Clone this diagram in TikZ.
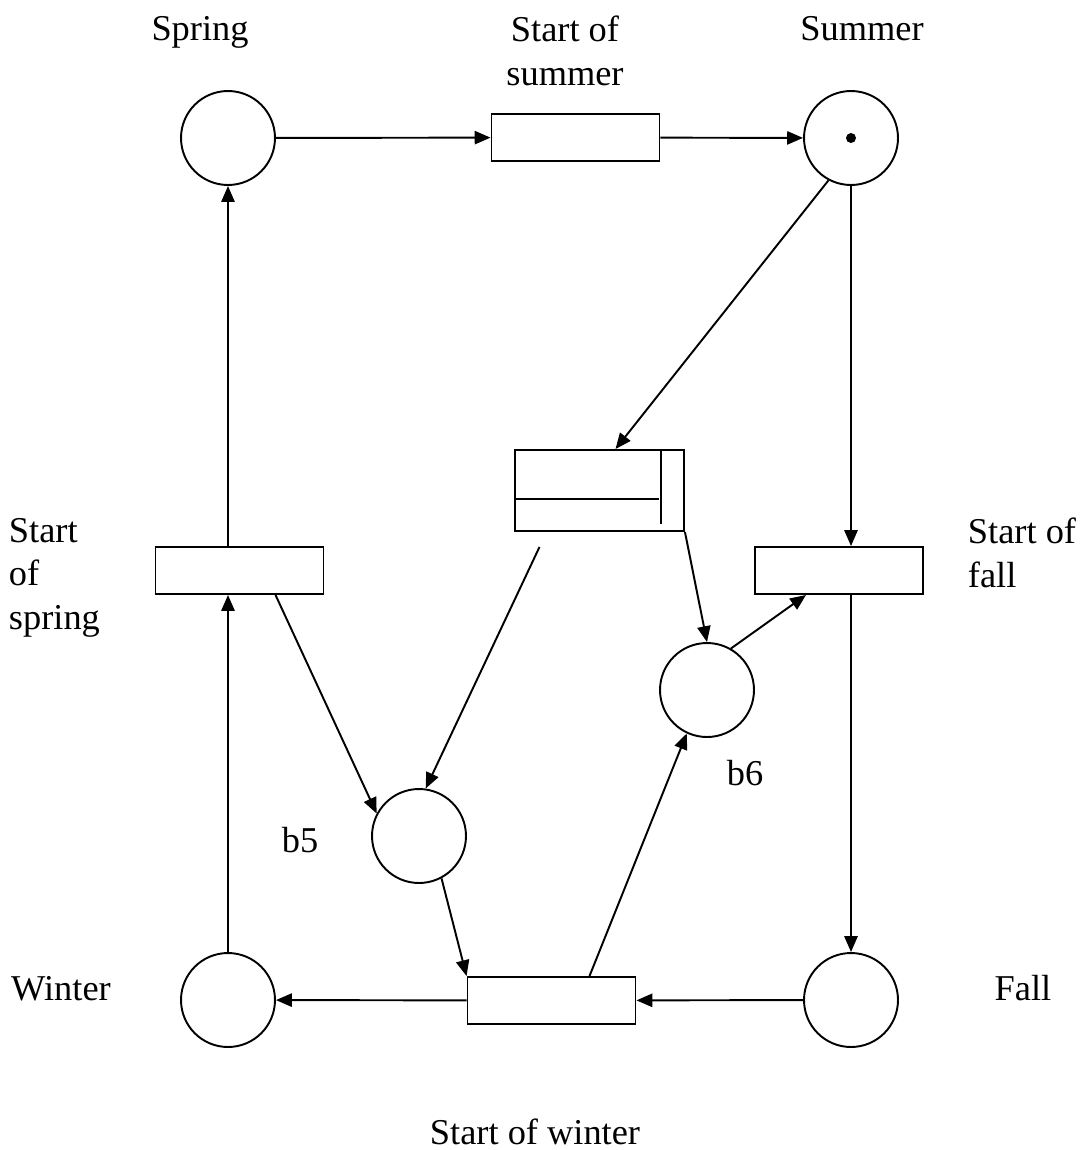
\documentclass[tikz,border=0pt]{standalone}
\usepackage{fontspec}
\setmainfont{Liberation Serif}
\usetikzlibrary{calc,arrows.meta}

\begin{document}
\begin{tikzpicture}[x=0.02cm, y=-0.02cm, line width=1.1pt,
	place/.style={draw, circle, minimum size=1.88cm, inner sep=0},
	trans/.style={draw, rectangle, minimum width=3.36cm, minimum height=0.94cm, inner sep=0},
	arc/.style={-{Triangle[length=9pt,width=7.5pt]}},
	lbl/.style={font=\fontsize{20.7}{25}\selectfont, inner sep=0}]
			%%%%% START %%%%%
			
			\useasboundingbox (0,0) rectangle (1087,1150);
			
			\node[place] (spring) at (228,138) {};
			\node[place] (summer) at (851,138) {};
			\node[place] (winter) at (228,1000) {};
			\node[place] (fall) at (851,1000) {};
			\node[place] (b5) at (419,836) {};
			\node[place] (b6) at (707,690) {};
			\fill (summer) circle (0.1cm);
			
			\node[trans] (ssummer) at (575.5,137.5) {};
			\node[trans] (sspring) at (239.5,570.5) {};
			\node[trans] (sfall) at (839,570.5) {};
			\node[trans] (swinter) at (551.5,1000.5) {};
			
			\node[draw, minimum width=3.38cm, minimum height=1.62cm, inner sep=0] (mid) at (599.5,490.5) {};
			\draw ($(mid.north east)+(-24,0)$) -- ($(mid.south east)+(-24,-8)$);
			\draw ($(mid.west)+(0,8.5)$) -- ++(145,0);
			
			\draw[arc] (spring) -- (ssummer);
			\draw[arc] (ssummer) -- (summer);
			\draw[arc] (summer.-118) -- ($(mid.north)+(16,0)$);
			\draw[arc] (summer) -- (sfall.north -| summer);
			\draw[arc] (sfall.south -| fall) -- (fall);
			\draw[arc] (fall) -- (swinter);
			\draw[arc] (swinter) -- (winter);
			\draw[arc] (winter) -- (sspring.south -| winter);
			\draw[arc] (sspring.north -| spring) -- (spring);
			\draw[arc] ($(sspring.south)+(36,0)$) -- (b5.152);
			\draw[arc] ($(mid.south)+(-60,15)$) -- (b5.82);
			\draw[arc] (mid.south east) -- (b6.90);
			\draw[arc] (b6.60) -- ($(sfall.south)+(-33,0)$);
			\draw[arc] (b5.-62) -- (swinter.north west);
			\draw[arc] ($(swinter.north)+(38,0)$) -- (b6.245);
			
			\node[lbl, anchor=base] (lspring) at (200,40) {Spring};
			\node[lbl, anchor=north, align=center] (lssummer) at (565,15) {Start of\\summer};
			\node[lbl, anchor=base] (lsummer) at (862,40) {Summer};
			\node[lbl, anchor=north west, align=left] (lsspring) at (8,517) {Start\\of\\spring};
			\node[lbl, anchor=north west, align=left] (lsfall) at (967,517) {Start of\\fall};
			\node[lbl, anchor=base] (lwinter) at (61,1000) {Winter};
			\node[lbl, anchor=base] (lfall) at (1023,1000) {Fall};
			\node[lbl, anchor=base] (lb6) at (745,785) {b6};
			\node[lbl, anchor=base] (lb5) at (300,852) {b5};
			\node[lbl, anchor=base] (lswinter) at (535,1144) {Start of winter};
			
			%%%%% END %%%%%
\end{tikzpicture}
\end{document}
